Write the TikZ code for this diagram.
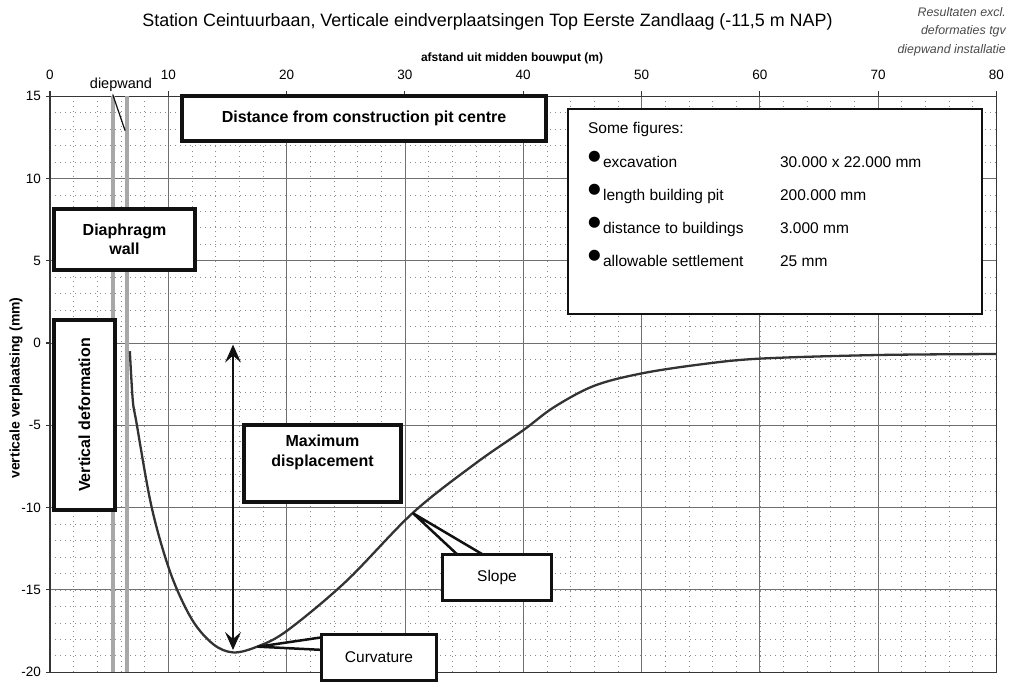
\documentclass[tikz,border=0pt]{standalone}
\usepackage{fontspec}
\setmainfont{Liberation Sans}
\newfontfamily\dejavu{DejaVu Sans}
\usetikzlibrary{arrows.meta,calc,positioning}
\pgfdeclarelayer{front}
\pgfsetlayers{main,front}
\definecolor{Ink}{HTML}{111111}
\definecolor{CurveInk}{HTML}{333333}
\definecolor{GridMajor}{HTML}{707070}
\definecolor{GridMinor}{HTML}{8C8C8C}
\definecolor{WallGray}{HTML}{A8A8A8}
\definecolor{NoteGray}{HTML}{4A4A4A}
\newcommand{\fs}[2]{\fontsize{#1}{#2}\selectfont}
\newcommand{\figbullet}{\makebox[15pt][l]{\raisebox{6.5pt}{\dejavu\fs{14.5}{14.5}●}}}

\begin{document}
\begin{tikzpicture}[x=1pt,y=1pt,
    box/.style={draw=Ink,fill=white,line width=4pt,font=\bfseries\fs{16}{19},
      align=center,inner sep=0pt},
    callout/.style={draw=Ink,fill=white,line width=3pt,font=\fs{15.5}{18},inner sep=0pt},
    wedge/.style={draw=Ink,fill=white,line width=2.5pt,line join=round},
    ticklabel/.style={font=\fs{13.5}{15},inner sep=0pt},
    axlabel/.style={font=\bfseries\fs{12}{14},inner sep=0pt},
    minorgrid/.style={draw=GridMinor,line width=0.6pt,dash pattern=on 1pt off 4pt},
    majorgrid/.style={draw=GridMajor,line width=0.8pt},
    frame/.style={draw=Ink!85,line width=1.1pt},
    wall/.style={draw=WallGray,line width=4pt},
    curve/.style={draw=CurveInk,line width=2.3pt,line join=round},
    dimarrow/.style={{Stealth[length=18pt,width=16pt,inset=7pt]}-{Stealth[length=18pt,width=16pt,inset=7pt]},
      draw=Ink,line width=1.3pt}]
  \useasboundingbox (0,0) rectangle (1014,693);

  % titles and note
  \node[font=\fs{17.9}{21},inner sep=0pt] (title) at (487.5,671)
    {Station Ceintuurbaan, Verticale eindverplaatsingen Top Eerste Zandlaag (-11,5 m NAP)};
  \node[font=\itshape\fs{12.4}{18.5},text=NoteGray,align=right,inner sep=0pt,anchor=east] (note)
    at (1006,661.5) {Resultaten excl.\\deformaties tgv\\diepwand installatie};
  \node[axlabel] (xlab) at (512,635) {afstand uit midden bouwput (m)};
  \node[axlabel,font=\bfseries\fs{14}{16},rotate=90] (ylab) at (16,305) {verticale verplaatsing (mm)};
  \node[font=\fs{14.5}{17},inner sep=0pt] (dwlabel) at (121,608) {diepwand};

  % plot in data units (m, mm)
  \begin{scope}[shift={(50,350)},x=11.83pt,y=16.46pt]
    \foreach \yy in {-19,...,14}
      \draw[minorgrid] (0,\yy) -- (80,\yy);
    \foreach \xx in {2,4,...,78}
      \draw[minorgrid] (\xx,-20) -- (\xx,15);
    \foreach \xx in {10,20,...,70}
      \draw[majorgrid] (\xx,-20) -- (\xx,15);
    \foreach \yy in {-15,-10,...,10}
      \draw[majorgrid] (0,\yy) -- (80,\yy);
    \draw[frame] (0,-20) rectangle (80,15);
    \foreach \xx in {0,10,...,80} {
      \draw[frame] (\xx,15) -- (\xx,15.3);
      \node[ticklabel] (xt\xx) at (\xx,16.3) {\xx};
    }
    \foreach \yy in {-20,-15,...,15} {
      \draw[frame] (-0.35,\yy) -- (0,\yy);
      \node[ticklabel,anchor=east] (yt\yy) at (-0.75,\yy) {\yy};
    }

    % diaphragm wall
    \draw[wall] (5.3,-20) -- (5.3,15);
    \draw[wall] (6.5,-20) -- (6.5,15);
    \coordinate (dwtop) at (5.3,15.1);
    \coordinate (dwtip) at (6.35,12.9);
    \draw[Ink,line width=1.2pt] (dwtop) -- (dwtip);

    % settlement trough
    \draw[curve] plot[smooth,tension=0.55] coordinates {
      (6.75,-0.5) (7.0,-3.5) (7.3,-4.8) (8.6,-10) (10.2,-14) (12,-16.8)
      (13.8,-18.3) (15.5,-18.8) (17.5,-18.45) (20,-17.5) (25,-14.5)
      (30.7,-10.3) (36,-7.3) (40,-5.3) (42.6,-3.9) (46,-2.6) (50,-1.85)
      (55,-1.3) (60,-0.95) (70,-0.73) (80,-0.67)};

    \coordinate (slopept) at (30.7,-10.35);
    \coordinate (curvpt) at (17.6,-18.45);
    \coordinate (dtop) at (15.47,-0.1);
    \coordinate (dbot) at (15.47,-18.65);
    \draw[dimarrow] (dtop) -- (dbot);
  \end{scope}

  % annotation boxes
  \node[box,minimum width=364,minimum height=45] (dist) at (364,574.5)
    {Distance from construction pit centre};
  \node[box,minimum width=141,minimum height=61] (diaph) at (124.5,453.5)
    {Diaphragm\\wall};
  \node[box,rotate=90,minimum width=190,minimum height=61] (vdef) at (84.5,278)
    {Vertical deformation};
  \node[box,font=\bfseries\fs{16}{20},minimum width=157,minimum height=77] (maxd) at (322.5,229)
    {Maximum\\displacement\\\strut};

  \node[draw=Ink,fill=white,line width=2.2pt,minimum width=414,minimum height=205] (figs)
    at (775,481.5) {};
  \node[anchor=north west,inner sep=0pt,font=\fs{15.5}{33}] (figtxt)
    at ($(figs.north west)+(21,-2)$) {%
    \begin{tabular}{@{}p{192pt}@{}l@{}}
      Some figures: \\[1pt]
      \figbullet excavation & 30.000 x 22.000 mm\\
      \figbullet length building pit & 200.000 mm\\
      \figbullet distance to buildings & 3.000 mm\\
      \figbullet allowable settlement & 25 mm
    \end{tabular}};

  % callouts, boxes on top of their pointers
  \begin{pgfonlayer}{front}
    \node[callout,minimum width=109,minimum height=46] (slope) at (497,115.5) {Slope};
    \node[callout,minimum width=115,minimum height=46] (curv) at (379,35.5) {Curvature};
  \end{pgfonlayer}
  \filldraw[wedge] (slopept) -- ($(slope.north west)+(19,-4)$) -- ($(slope.north west)+(46,-4)$) -- cycle;
  \filldraw[wedge] (curvpt) -- ($(curv.north west)+(4,-4)$) -- ($(curv.north west)+(4,-17)$) -- cycle;
\end{tikzpicture}
\end{document}
